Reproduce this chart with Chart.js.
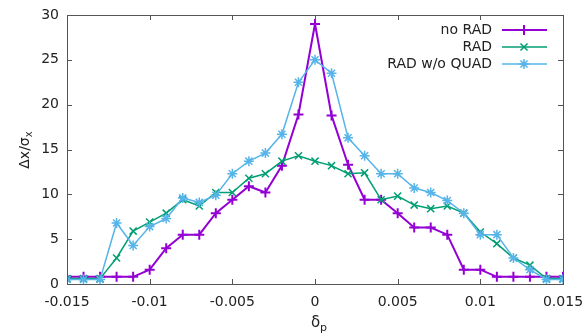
<!DOCTYPE html>
<html>
<head>
<meta charset="utf-8">
<script src="https://cdn.jsdelivr.net/npm/chart.js@4"></script>
<style>
  html, body { margin: 0; padding: 0; background: #fff; }
  #wrap { width: 586px; height: 334px; position: relative; }
</style>
</head>
<body>
<div id="wrap"><canvas id="chart"></canvas></div>
<script>
// delta_p samples, -0.015 .. 0.015 in steps of 0.001
const deltaP = [
  -0.015, -0.014, -0.013, -0.012, -0.011, -0.010, -0.009, -0.008, -0.007, -0.006,
  -0.005, -0.004, -0.003, -0.002, -0.001, 0, 0.001, 0.002, 0.003, 0.004,
  0.005, 0.006, 0.007, 0.008, 0.009, 0.010, 0.011, 0.012, 0.013, 0.014, 0.015
];
const noRad = [
  0.8, 0.8, 0.8, 0.8, 0.8, 1.6, 4.0, 5.5, 5.5, 7.9,
  9.4, 10.9, 10.2, 13.2, 18.9, 29.0, 18.8, 13.3, 9.4, 9.4,
  7.9, 6.3, 6.3, 5.5, 1.6, 1.6, 0.8, 0.8, 0.8, 0.8, 0.8
];
const rad = [
  0.6, 0.6, 0.6, 2.9, 5.9, 6.9, 7.9, 9.4, 8.7, 10.2,
  10.2, 11.8, 12.3, 13.7, 14.3, 13.7, 13.2, 12.3, 12.4, 9.4,
  9.8, 8.8, 8.4, 8.7, 7.9, 5.8, 4.5, 2.9, 2.1, 0.6, 0.6
];
const radNoQuad = [
  0.5, 0.5, 0.5, 6.8, 4.3, 6.4, 7.3, 9.6, 9.1, 9.9,
  12.3, 13.7, 14.6, 16.7, 22.5, 25.0, 23.5, 16.3, 14.3, 12.3,
  12.3, 10.7, 10.2, 9.3, 7.9, 5.5, 5.5, 2.9, 1.6, 0.5, 0.5
];
const xTicks = [-0.015, -0.01, -0.005, 0, 0.005, 0.01, 0.015];
const yTicks = [0, 5, 10, 15, 20, 25, 30];

const seriesNames = ["no RAD", "RAD", "RAD w/o QUAD"];
const seriesColors = ["#9400d3", "#009e73", "#56b4e9"];
const seriesMarkers = ["cross", "crossRot", "star"];

const FONT = "DejaVu Sans";

function toPoints(ys) {
  return ys.map((y, i) => ({ x: deltaP[i], y: y }));
}

// gnuplot-style frame: border box, inward ticks on all sides, legend, axis titles
const gnuplotFrame = {
  id: "gnuplotFrame",
  afterDatasetsDraw(chart) {
    const ctx = chart.ctx;
    const area = chart.chartArea;
    const xs = chart.scales.x;
    const ys = chart.scales.y;
    ctx.save();
    ctx.strokeStyle = "#555";
    ctx.lineWidth = 1;
    ctx.strokeRect(area.left + 0.5, area.top + 0.5, area.right - area.left, area.bottom - area.top);
    ctx.beginPath();
    xTicks.forEach((t) => {
      const px = Math.round(xs.getPixelForValue(t)) + 0.5;
      ctx.moveTo(px, area.bottom); ctx.lineTo(px, area.bottom - 5);
      ctx.moveTo(px, area.top); ctx.lineTo(px, area.top + 5);
    });
    yTicks.forEach((t) => {
      const py = Math.round(ys.getPixelForValue(t)) + 0.5;
      ctx.moveTo(area.left, py); ctx.lineTo(area.left + 5, py);
      ctx.moveTo(area.right, py); ctx.lineTo(area.right - 5, py);
    });
    ctx.stroke();

    // legend
    ctx.font = "14px '" + FONT + "'";
    ctx.textAlign = "right";
    ctx.textBaseline = "middle";
    chart.data.datasets.forEach((ds, i) => {
      const y = 30 + i * 17;
      ctx.fillStyle = "#222";
      ctx.fillText(seriesNames[i], 492, y);
      ctx.strokeStyle = seriesColors[i];
      ctx.lineWidth = i === 0 ? 2 : 1.5;
      ctx.beginPath();
      ctx.moveTo(502, y); ctx.lineTo(547, y);
      ctx.stroke();
      Chart.helpers.drawPoint(ctx, {
        pointStyle: seriesMarkers[i], radius: 5, borderWidth: ctx.lineWidth
      }, 524, y);
    });

    // x title: delta_p
    ctx.fillStyle = "#222";
    ctx.textAlign = "left";
    ctx.font = "15px '" + FONT + "'";
    ctx.fillText("δ", 311, 323);
    ctx.font = "11px '" + FONT + "'";
    ctx.fillText("p", 320, 328);

    // y title: Delta x / sigma_x, rotated
    ctx.translate(25, 150);
    ctx.rotate(-Math.PI / 2);
    ctx.font = "14px '" + FONT + "'";
    ctx.textAlign = "left";
    const main = "Δx/σ";
    const w = ctx.measureText(main).width;
    ctx.fillText(main, -w / 2 - 3, 0);
    ctx.font = "10px '" + FONT + "'";
    ctx.fillText("x", w / 2 - 3, 4);
    ctx.restore();
  }
};

const datasets = [noRad, rad, radNoQuad].map((ys, i) => ({
  label: seriesNames[i],
  data: toPoints(ys),
  borderColor: seriesColors[i],
  backgroundColor: seriesColors[i],
  borderWidth: i === 0 ? 2 : 1.5,
  pointStyle: seriesMarkers[i],
  pointRadius: 5,
  pointBorderWidth: i === 0 ? 2 : 1.5,
  tension: 0,
  order: 2 - i
}));

new Chart(document.getElementById("chart"), {
  type: "line",
  data: { datasets: datasets },
  plugins: [gnuplotFrame],
  options: {
    responsive: true,
    maintainAspectRatio: false,
    animation: false,
    layout: { padding: { top: 15, right: 23, left: 0, bottom: 0 } },
    plugins: {
      legend: { display: false },
      tooltip: { enabled: false }
    },
    scales: {
      x: {
        type: "linear",
        min: -0.015,
        max: 0.015,
        afterBuildTicks: (axis) => { axis.ticks = xTicks.map((v) => ({ value: v })); },
        afterFit: (axis) => {
          axis.height = 50;
          axis.paddingLeft = 0;
          axis.paddingRight = 0;
        },
        grid: { display: false, drawTicks: false },
        border: { display: false },
        ticks: {
          padding: 10,
          color: "#222",
          font: { family: FONT, size: 14 },
          maxRotation: 0,
          callback: (v) => String(parseFloat(Number(v).toFixed(3)))
        }
      },
      y: {
        min: 0,
        max: 30,
        afterBuildTicks: (axis) => { axis.ticks = yTicks.map((v) => ({ value: v })); },
        afterFit: (axis) => {
          axis.width = 67;
          axis.paddingTop = 0;
          axis.paddingBottom = 0;
        },
        grid: { display: false, drawTicks: false },
        border: { display: false },
        ticks: {
          padding: 8,
          color: "#222",
          font: { family: FONT, size: 14 }
        }
      }
    }
  }
});
</script>
</body>
</html>
